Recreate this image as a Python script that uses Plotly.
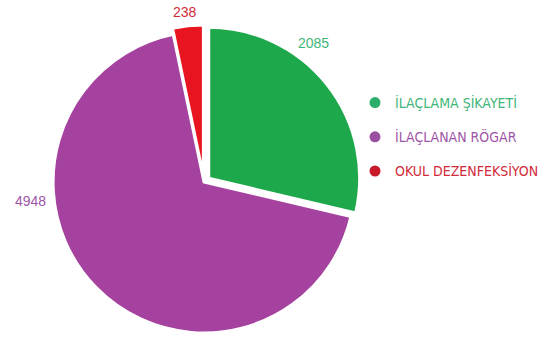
import plotly.graph_objects as go

# Category data
categories = ["İLAÇLAMA ŞİKAYETİ", "İLAÇLANAN RÖGAR", "OKUL DEZENFEKSİYON"]
values = [2085, 4948, 238]

slice_colors = ["#1ea84c", "#a5419e", "#e8141f"]
legend_marker_colors = ["#2aae6a", "#9b4fa0", "#c8192b"]
text_colors = ["#3fb57a", "#9d56a6", "#d22a3a"]
pulls = [0.04, 0.0, 0.04]

W, H = 549, 339
FONT = "Liberation Sans Narrow, DejaVu Sans Condensed, Arial Narrow, sans-serif"

fig = go.Figure()

fig.add_trace(go.Pie(
    labels=categories,
    values=values,
    sort=False,
    direction="clockwise",
    rotation=0,
    pull=pulls,
    marker=dict(colors=slice_colors, line=dict(color="white", width=3)),
    textinfo="none",
    hoverinfo="label+value",
    showlegend=False,
    domain=dict(x=[(204 - 165) / W, (204 + 165) / W], y=[0, 0.926]),
))

# Legend entries with round markers and coloured text
for i, (name, mc, tc) in enumerate(zip(categories, legend_marker_colors, text_colors)):
    fig.add_trace(go.Scatter(
        x=[None], y=[None], mode="markers",
        marker=dict(color=mc, size=11, symbol="circle"),
        name=f"<span style='color:{tc}'>{name}</span>",
        legendgroup=f"g{i}",
        showlegend=True,
    ))

# Value labels beside each slice
label_pos = [(313, 43), (30, 201), (185, 12)]
for v, (px, py), tc in zip(values, label_pos, text_colors):
    fig.add_annotation(
        x=px / W, y=1 - py / H, xref="paper", yref="paper",
        text=str(v), showarrow=False,
        font=dict(family="Liberation Sans, Arial, sans-serif", size=14, color=tc),
        xanchor="center", yanchor="middle",
    )

fig.update_layout(
    width=W, height=H,
    margin=dict(l=0, r=0, t=0, b=0),
    paper_bgcolor="white",
    plot_bgcolor="white",
    xaxis=dict(visible=False),
    yaxis=dict(visible=False),
    legend=dict(
        x=355 / W, y=1 - 87 / H, xanchor="left", yanchor="top",
        font=dict(family=FONT, size=14),
        tracegroupgap=13,
        bgcolor="rgba(0,0,0,0)",
    ),
)

fig.write_html("out.html")
